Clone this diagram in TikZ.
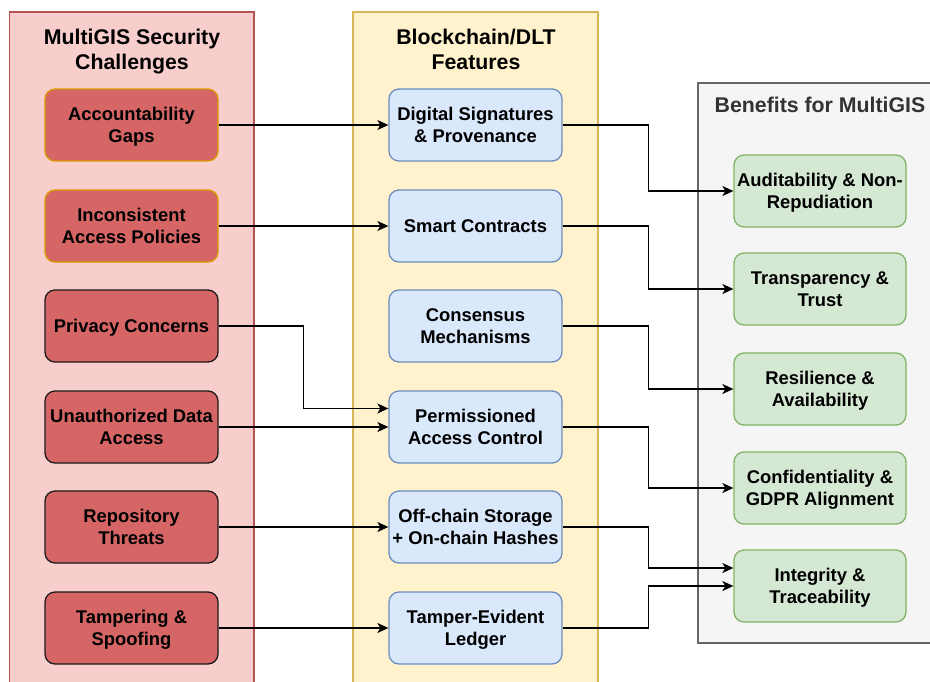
\documentclass[tikz,border=0pt]{standalone}
\usepackage{fontspec}
\setmainfont{Liberation Sans}
\usetikzlibrary{arrows.meta}
\definecolor{redcont}{HTML}{F8CECC}
\definecolor{redcontline}{HTML}{B85450}
\definecolor{redbox}{HTML}{D66666}
\definecolor{orangeline}{HTML}{D79B00}
\definecolor{darkline}{HTML}{1A1A1A}
\definecolor{yelcont}{HTML}{FFF2CC}
\definecolor{yelcontline}{HTML}{D6B656}
\definecolor{bluebox}{HTML}{DAE8FC}
\definecolor{blueline}{HTML}{6C8EBF}
\definecolor{greycont}{HTML}{F5F5F5}
\definecolor{greycontline}{HTML}{666666}
\definecolor{greenbox}{HTML}{D5E8D4}
\definecolor{greenline}{HTML}{82B366}
\definecolor{titlegrey}{HTML}{333333}
\begin{document}
\begin{tikzpicture}[x=1pt,y=-1pt,
  cont/.style={line width=1.5pt},
  ttl/.style={font=\bfseries\fontsize{21.3}{25}\selectfont, align=center, inner sep=0pt, text depth=0pt},
  box/.style={rounded corners=10pt, line width=1.3pt, minimum width=173pt, minimum height=72pt,
    align=center, font=\bfseries\fontsize{18.4}{22.5}\selectfont, inner sep=0pt, text=black, text depth=0pt},
  redb/.style={box, fill=redbox, draw=darkline},
  redbo/.style={box, fill=redbox, draw=orangeline},
  blueb/.style={box, fill=bluebox, draw=blueline},
  greenb/.style={box, fill=greenbox, draw=greenline, minimum width=172pt},
  conn/.style={line width=1.3pt, draw=black, -{Stealth[length=11pt,width=10pt,inset=3pt]}}]
\useasboundingbox (0,0) rectangle (930,681);
\clip (0,0) rectangle (930,681);
\fill[white] (0,0) rectangle (930,681);
% containers
\filldraw[cont, fill=redcont, draw=redcontline] (9.5,12) rectangle (254,700);
\filldraw[cont, fill=yelcont, draw=yelcontline] (353,12) rectangle (598,700);
\filldraw[cont, fill=greycont, draw=greycontline] (698,83) rectangle (945,643);
% titles
\node[ttl] (t1) at (132,49) {MultiGIS Security\\Challenges};
\node[ttl] (t2) at (476,49) {Blockchain/DLT\\Features};
\node[ttl, text=titlegrey] (t3) at (820,105) {Benefits for MultiGIS};
% challenges
\node[redbo] (a1) at (131.5,125) {Accountability\\Gaps};
\node[redbo] (a2) at (131.5,226) {Inconsistent\\Access Policies};
\node[redb] (a3) at (131.5,326) {Privacy Concerns};
\node[redb] (a4) at (131.5,427) {Unauthorized Data\\Access};
\node[redb] (a5) at (131.5,527) {Repository\\Threats};
\node[redb] (a6) at (131.5,628) {Tampering \&\\Spoofing};
% features
\node[blueb] (b1) at (475.5,125) {Digital Signatures\\\& Provenance};
\node[blueb] (b2) at (475.5,226) {Smart Contracts};
\node[blueb] (b3) at (475.5,326) {Consensus\\Mechanisms};
\node[blueb] (b4) at (475.5,427) {Permissioned\\Access Control};
\node[blueb] (b5) at (475.5,527) {Off-chain Storage\\+ On-chain Hashes};
\node[blueb] (b6) at (475.5,628) {Tamper-Evident\\Ledger};
% benefits
\node[greenb] (c1) at (820,191) {Auditability \& Non-\\Repudiation};
\node[greenb] (c2) at (820,289) {Transparency \&\\Trust};
\node[greenb] (c3) at (820,389) {Resilience \&\\Availability};
\node[greenb] (c4) at (820,488) {Confidentiality \&\\GDPR Alignment};
\node[greenb] (c5) at (820,586) {Integrity \&\\Traceability};
% connectors left -> middle
\draw[conn] (a1.east) -- (b1.west);
\draw[conn] (a2.east) -- (b2.west);
\draw[conn] (a3.east) -- ++(85,0) |- ([yshift=18.5pt]b4.west);
\draw[conn] (a4.east) -- (b4.west);
\draw[conn] (a5.east) -- (b5.west);
\draw[conn] (a6.east) -- (b6.west);
% connectors middle -> right
\draw[conn] (b1.east) -- ++(86,0) |- (c1.west);
\draw[conn] (b2.east) -- ++(86,0) |- (c2.west);
\draw[conn] (b3.east) -- ++(86,0) |- (c3.west);
\draw[conn] (b4.east) -- ++(86,0) |- (c4.west);
\draw[conn] (b5.east) -- ++(86,0) |- ([yshift=18pt]c5.west);
\draw[conn] (b6.east) -- ++(86,0) |- (c5.west);
\end{tikzpicture}
\end{document}
